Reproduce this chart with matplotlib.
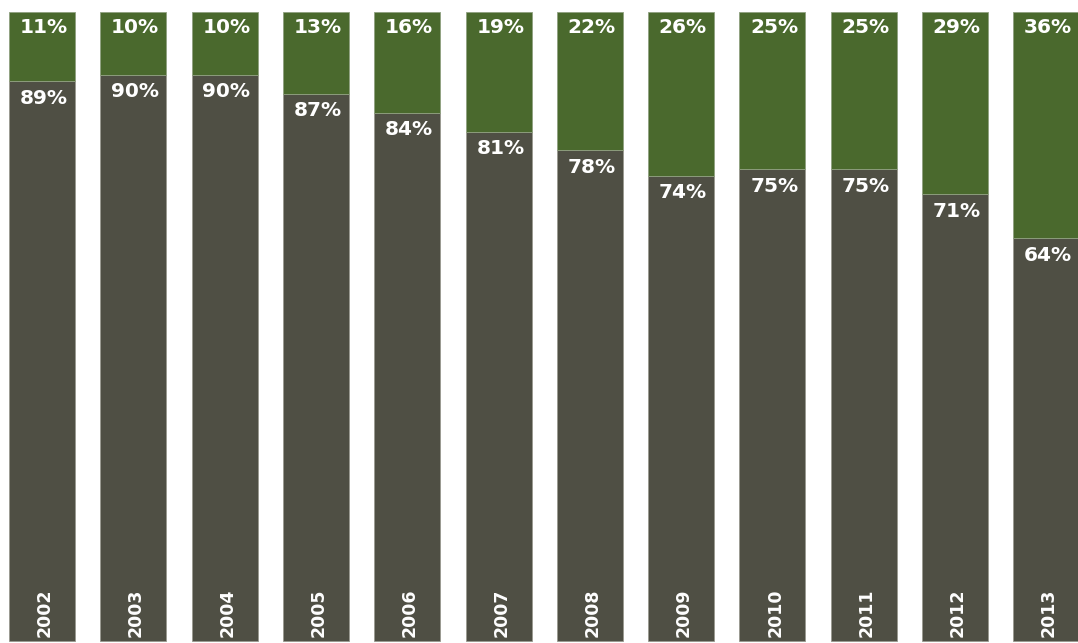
import matplotlib
matplotlib.use("Agg")
import matplotlib.pyplot as plt

years = ["2002", "2003", "2004", "2005", "2006", "2007", "2008", "2009", "2010", "2011", "2012", "2013"]
bottom_share = [89, 90, 90, 87, 84, 81, 78, 74, 75, 75, 71, 64]
top_share = [11, 10, 10, 13, 16, 19, 22, 26, 25, 25, 29, 36]

gray = "#4f4f44"
green = "#4a692d"

fig = plt.figure(figsize=(10.78, 6.43), dpi=100)
ax = fig.add_axes([0, 0, 1, 1])
x = list(range(len(years)))
w = 0.723
ax.bar(x, bottom_share, width=w, color=gray, edgecolor="#9a9a90", linewidth=0.6)
ax.bar(x, top_share, width=w, bottom=bottom_share, color=green, edgecolor="#8fa080", linewidth=0.6)

pct_font = dict(family=["DejaVu Sans"], fontweight="heavy", fontsize=14.5)
for i, (b, t, y) in enumerate(zip(bottom_share, top_share, years)):
    ax.text(i + 0.02, 99.0, f"{t}%", ha="center", va="top", color="white", **pct_font)
    ax.text(i + 0.02, b - 1.2, f"{b}%", ha="center", va="top", color="white", **pct_font)
    ax.text(i + 0.03, 0.6, y, ha="center", va="bottom", rotation=90, color="white",
            family=["DejaVu Sans"], fontsize=12.5, fontweight="bold")

ax.set_xlim(-0.46, 11.347)
ax.set_ylim(-0.318, 101.91)
ax.axis("off")
fig.savefig("out.png", dpi=100, facecolor="white")
